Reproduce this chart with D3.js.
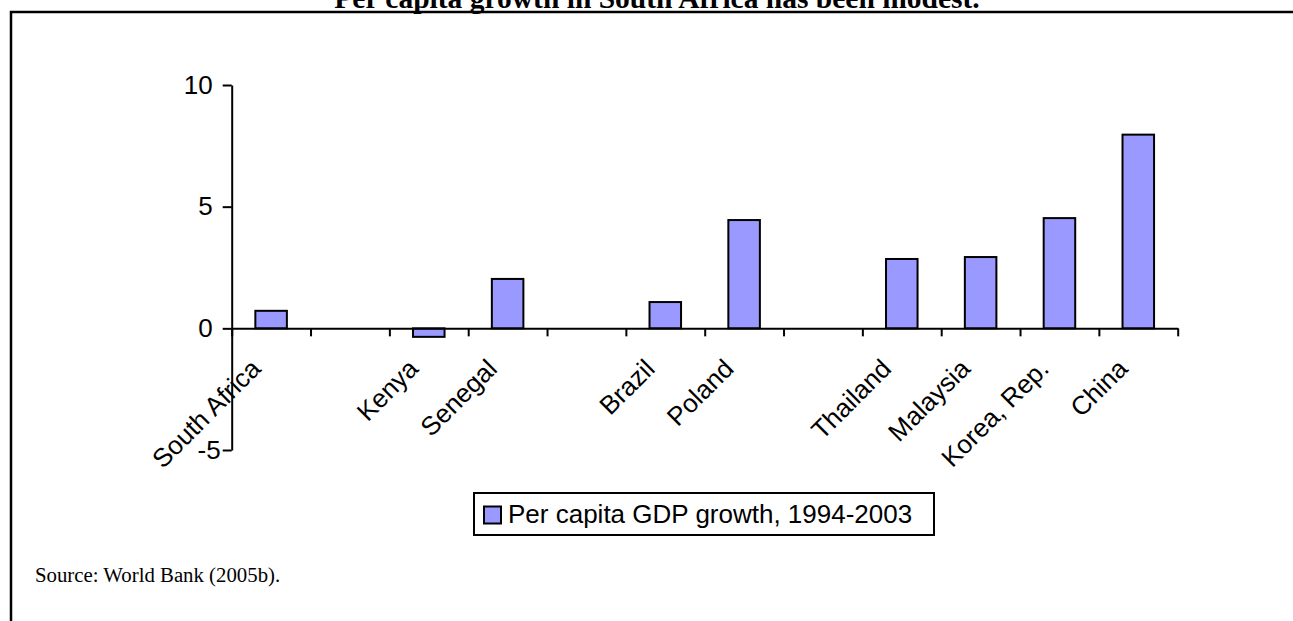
<!DOCTYPE html>
<html>
<head>
<meta charset="utf-8">
<script src="https://cdn.jsdelivr.net/npm/d3@7"></script>
<style>
  html, body { margin: 0; padding: 0; background: #fff; }
  svg { display: block; }
</style>
</head>
<body>
<svg id="chart" width="1293" height="621"></svg>
<script>
// Per capita GDP growth, 1994-2003 (%); empty slots separate the country groups
const categories = ["South Africa", "", "Kenya", "Senegal", "", "Brazil", "Poland", "", "Thailand", "Malaysia", "Korea, Rep.", "China"];
const growth = [0.72, null, -0.35, 2.03, null, 1.08, 4.45, null, 2.85, 2.93, 4.53, 7.96];
const yTicks = [-5, 0, 5, 10];
const seriesName = "Per capita GDP growth, 1994-2003";
const titleText = "Per capita growth in South Africa has been modest.";
const sourceText = "Source: World Bank (2005b).";

const svg = d3.select("#chart");
const sans = "Arial, 'Liberation Sans', Helvetica, sans-serif";
const serif = "'Times New Roman', 'Liberation Serif', serif";
const barFill = "#9999ff";

// Frame around the figure (open at right and bottom)
svg.append("path")
  .attr("d", "M11,621V12H1293")
  .attr("fill", "none")
  .attr("stroke", "#000")
  .attr("stroke-width", 2.5);

// Title
svg.append("text")
  .attr("x", 657).attr("y", 7.5)
  .attr("text-anchor", "middle")
  .style("font-family", serif)
  .style("font-weight", "bold")
  .style("font-size", "29.5px")
  .text(titleText);

// Scales
const left = 231.7, right = 1177.7;
const idx = d3.range(categories.length);
const x = d3.scaleBand().domain(idx).range([left, right]).padding(0);
const xEdge = d3.scaleLinear().domain([0, categories.length]).range([left, right]);
const y = d3.scaleLinear().domain([-5, 10]).range([450, 85]);

// Bars
const barW = x.bandwidth() * 0.4;
svg.append("g").selectAll("rect")
  .data(idx.filter(i => growth[i] !== null))
  .join("rect")
  .attr("x", i => x(i) + (x.bandwidth() - barW) / 2)
  .attr("y", i => y(Math.max(0, growth[i])))
  .attr("width", barW)
  .attr("height", i => Math.abs(y(growth[i]) - y(0)))
  .attr("fill", barFill)
  .attr("stroke", "#000")
  .attr("stroke-width", 2);

// Y axis
const yAxis = svg.append("g")
  .attr("transform", `translate(${left},0)`)
  .call(d3.axisLeft(y).tickValues(yTicks).tickSize(9).tickSizeOuter(0).tickPadding(10).tickFormat(d => String(d)));
yAxis.select(".domain").attr("stroke-width", 2);
yAxis.selectAll(".tick line").attr("stroke-width", 2);
yAxis.selectAll(".tick text")
  .style("font-family", sans).style("font-size", "26px").attr("fill", "#000")
  .attr("dx", d => d < 0 ? 8 : 0);

// X axis along zero, ticks at category boundaries
const xAxis = svg.append("g")
  .attr("transform", `translate(0,${y(0)})`)
  .call(d3.axisBottom(xEdge).tickValues(d3.range(categories.length + 1)).tickSize(8).tickSizeOuter(0).tickFormat(""));
xAxis.select(".domain").attr("stroke-width", 2);
xAxis.selectAll(".tick line").attr("stroke-width", 2);

// Rotated category labels
svg.append("g").selectAll("text")
  .data(idx.filter(i => categories[i] !== ""))
  .join("text")
  .attr("transform", i => `translate(${x(i) + x.bandwidth() / 2 - 9},${y(0) + 42}) rotate(-45)`)
  .attr("text-anchor", "end")
  .style("font-family", sans)
  .style("font-size", "26px")
  .text(i => categories[i]);

// Legend
const legend = svg.append("g");
legend.append("rect")
  .attr("x", 474).attr("y", 493).attr("width", 460).attr("height", 42)
  .attr("fill", "#fff").attr("stroke", "#000").attr("stroke-width", 2);
legend.append("rect")
  .attr("x", 484).attr("y", 506.5).attr("width", 17).attr("height", 17)
  .attr("fill", barFill).attr("stroke", "#000").attr("stroke-width", 2);
legend.append("text")
  .attr("x", 508).attr("y", 523)
  .style("font-family", sans).style("font-size", "26px")
  .text(seriesName);

// Source note
svg.append("text")
  .attr("x", 35).attr("y", 581.5)
  .style("font-family", serif).style("font-size", "20.8px")
  .text(sourceText);
</script>
</body>
</html>
